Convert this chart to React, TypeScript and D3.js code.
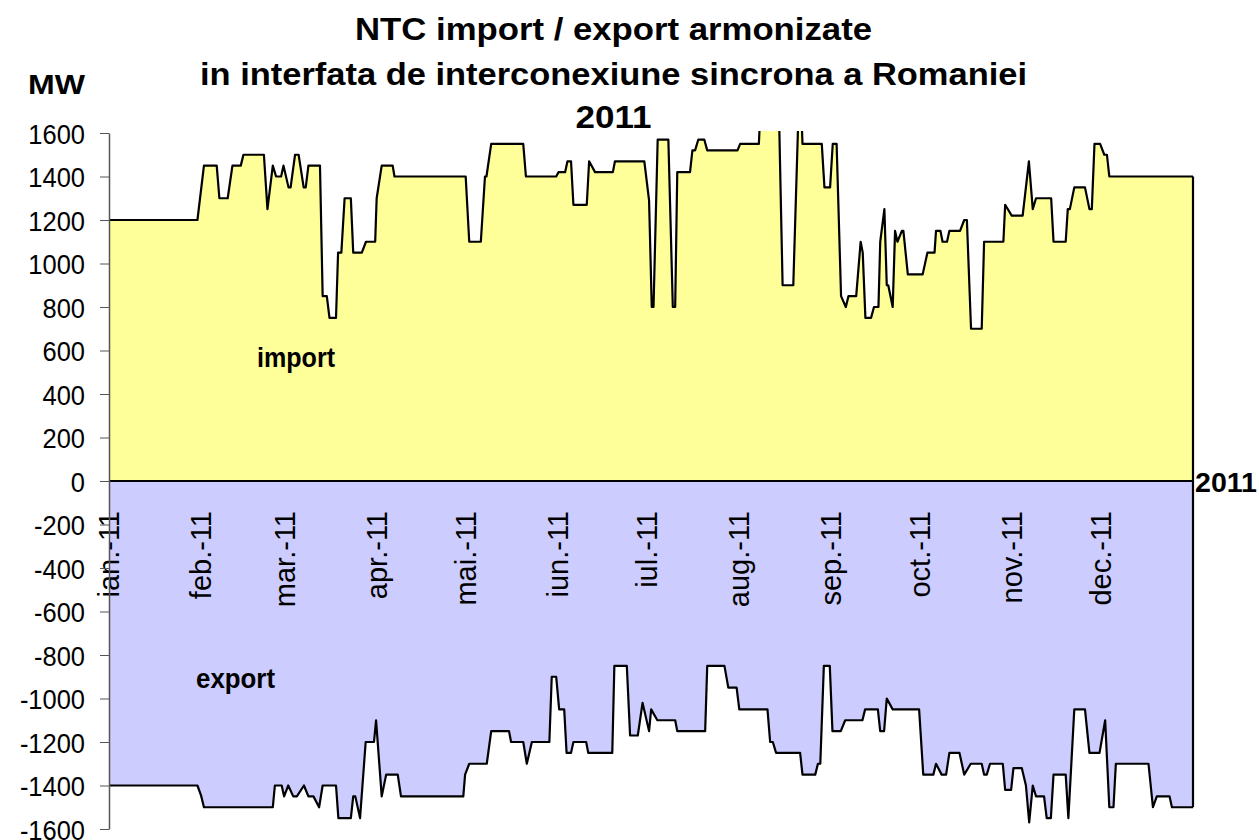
import React from "react";
import * as d3 from "d3";

// -- DATA --
// [day of 2011 (0 = 1 jan), MW]
const importNTC: [number, number][] = [
  [0, 1200], [29.8, 1200], [32, 1450], [36.3, 1450], [37.2, 1300], [40, 1300],
  [41.6, 1450], [44.4, 1450], [45.3, 1500], [52.2, 1500], [53.4, 1250], [55.2, 1450],
  [56.3, 1400], [58, 1400], [58.8, 1450], [60.5, 1350], [61.2, 1350], [62.7, 1500],
  [63.9, 1500], [65.6, 1350], [66.3, 1350], [67.2, 1450], [71.1, 1450], [72, 850],
  [73.4, 850], [74.3, 750], [76.5, 750], [77.2, 1050], [78.3, 1050], [79.4, 1300],
  [81.5, 1300], [82.3, 1050], [85.2, 1050], [86.6, 1100], [89.7, 1100], [90.2, 1300],
  [91.9, 1450], [95.6, 1450], [96.2, 1400], [120.2, 1400], [121.4, 1100], [125.3, 1100],
  [126.7, 1400], [127.2, 1400], [128.8, 1550], [139.6, 1550], [140.5, 1400], [150.7, 1400],
  [151.5, 1420], [153.7, 1420], [154.5, 1470], [155.7, 1470], [156.5, 1270], [161, 1270],
  [161.8, 1470], [163.8, 1420], [169.8, 1420], [170.5, 1470], [180.4, 1470], [182, 1290],
  [182.9, 800], [183.5, 800], [184.9, 1570], [188.5, 1570], [190, 800], [190.8, 800],
  [191.5, 1420], [195.8, 1420], [196.6, 1520], [197.5, 1520], [198.6, 1570], [200.6, 1570],
  [201.6, 1520], [211.8, 1520], [212.7, 1550], [219, 1550], [220.5, 2000], [225.3, 2000],
  [227, 900], [230.6, 900], [232.8, 1900], [233.7, 1550], [240.2, 1550], [241.1, 1350],
  [243, 1350], [243.9, 1550], [245.2, 1550], [246.7, 850], [248.3, 800], [249.2, 850],
  [251.8, 850], [253.3, 1100], [254, 1050], [254.9, 750], [256.8, 750], [257.8, 800],
  [259.3, 800], [259.9, 1100], [261.3, 1250], [262.1, 900], [262.6, 900], [264.1, 800],
  [264.9, 1150], [265.7, 1100], [267.2, 1150], [267.7, 1150], [269.2, 950], [274.2, 950],
  [275.8, 1050], [278.2, 1050], [278.7, 1150], [280.2, 1150], [280.9, 1100], [282.4, 1100],
  [283.2, 1150], [286.8, 1150], [288.2, 1200], [289.1, 1200], [290.5, 700], [294.1, 700],
  [294.9, 1100], [301.4, 1100], [302, 1270], [304.2, 1220], [307.9, 1220], [310, 1470],
  [311.3, 1250], [312.4, 1300], [317.5, 1300], [318.3, 1100], [322.4, 1100], [323.1, 1250],
  [323.8, 1250], [325.3, 1350], [328.9, 1350], [330.4, 1250], [331.2, 1250], [332.1, 1550],
  [334, 1550], [335.4, 1500], [336.3, 1500], [337.1, 1400], [365.3, 1400],
];

const exportNTC: [number, number][] = [
  [0, -1400], [29.8, -1400], [31, -1445], [32, -1500], [55.2, -1500], [55.9, -1400],
  [58.2, -1400], [59, -1450], [60.4, -1400], [62.1, -1450], [63.3, -1450], [65.7, -1400],
  [67.2, -1450], [68.9, -1450], [70.8, -1500], [72, -1400], [76.5, -1400], [77.3, -1550],
  [81.5, -1550], [82.3, -1450], [83, -1450], [84.6, -1550], [86.5, -1200], [89.3, -1200],
  [90, -1100], [91.9, -1450], [93.4, -1350], [97.3, -1350], [98.4, -1450], [119.4, -1450],
  [120, -1350], [121.4, -1300], [127.3, -1300], [128.8, -1150], [134.8, -1150], [135.5, -1200],
  [139.6, -1200], [140.8, -1300], [142.5, -1200], [148.4, -1200], [149.2, -900], [150.7, -900],
  [151.7, -1050], [153.4, -1050], [154.2, -1250], [155.7, -1250], [156.5, -1200], [160.8, -1200],
  [161.5, -1250], [169.6, -1250], [170.3, -850], [174.5, -850], [175.6, -1170], [178.2, -1170],
  [179.8, -1020], [182, -1150], [182.7, -1050], [184.8, -1100], [190.8, -1100], [191.5, -1150],
  [200.9, -1150], [201.6, -850], [207.4, -850], [208.7, -950], [211.5, -950], [212.4, -1050],
  [221.9, -1050], [222.8, -1200], [223.7, -1200], [224.8, -1250], [232.9, -1250], [233.7, -1350],
  [238, -1350], [238.9, -1300], [239.7, -1300], [240.9, -850], [242.9, -850], [243.8, -1150],
  [246.6, -1150], [248.1, -1100], [253.9, -1100], [254.8, -1050], [259.1, -1050], [259.9, -1150],
  [261.2, -1150], [262.1, -1000], [264.1, -1050], [273, -1050], [274.4, -1350], [277.8, -1350],
  [278.7, -1300], [280.6, -1350], [282.1, -1350], [283.2, -1250], [286.6, -1250], [288.2, -1350],
  [290.4, -1300], [294.1, -1300], [294.9, -1350], [295.8, -1350], [296.9, -1300], [301.2, -1300],
  [302, -1420], [304, -1420], [304.8, -1320], [307.6, -1320], [309, -1400], [310.1, -1570],
  [311.3, -1400], [312.4, -1450], [315.1, -1450], [316, -1550], [317.4, -1550], [318.3, -1350],
  [322.4, -1350], [323.3, -1550], [325.3, -1050], [328.9, -1050], [330.4, -1250], [333.8, -1250],
  [335.7, -1100], [337.1, -1500], [338.5, -1500], [339.3, -1300], [350.3, -1300], [351.8, -1500],
  [353.1, -1450], [357.4, -1450], [358.2, -1500], [365.3, -1500],
];

const monthLabels = [
  "ian.-11", "feb.-11", "mar.-11", "apr.-11", "mai.-11", "iun.-11",
  "iul.-11", "aug.-11", "sep.-11", "oct.-11", "nov.-11", "dec.-11",
];
const yTicks = [1600, 1400, 1200, 1000, 800, 600, 400, 200, 0, -200, -400, -600, -800, -1000, -1200, -1400, -1600];
const titleLines = [
  "NTC import / export armonizate",
  "in interfata de interconexiune sincrona a Romaniei",
  "2011",
];

const FONT = "'Liberation Sans', Arial, sans-serif";

const App = () => {
  const svgRef = React.useRef<SVGSVGElement>(null);

  React.useEffect(() => {
    const svg = d3.select(svgRef.current);
    svg.selectAll("*").remove();

    // Scales
    const x = d3.scaleLinear().domain([0, 365.3]).range([109, 1193]);
    const y = d3.scaleLinear().domain([-1600, 1600]).range([829, 133]);

    svg
      .append("defs")
      .append("clipPath")
      .attr("id", "plot-clip")
      .append("rect")
      .attr("x", 109)
      .attr("y", 131)
      .attr("width", 1090)
      .attr("height", 705);

    const plot = svg.append("g").attr("clip-path", "url(#plot-clip)");

    const area = d3
      .area<[number, number]>()
      .x((d) => x(d[0]))
      .y0(y(0))
      .y1((d) => y(d[1]));
    const line = d3
      .line<[number, number]>()
      .x((d) => x(d[0]))
      .y((d) => y(d[1]));

    plot.append("path").datum(importNTC).attr("d", area).attr("fill", "#FFFF99");
    plot.append("path").datum(exportNTC).attr("d", area).attr("fill", "#CCCCFF");

    // month labels sit on the export area
    const jan1 = new Date(2011, 0, 1);
    const monthDays = d3
      .timeMonth.range(jan1, new Date(2012, 0, 1))
      .map((d) => d3.timeDay.count(jan1, d));
    svg
      .append("g")
      .selectAll("text")
      .data(monthLabels)
      .enter()
      .append("text")
      .attr("transform", (d, i) => `translate(${x(monthDays[i])},511) rotate(-90)`)
      .attr("dy", "0.36em")
      .attr("text-anchor", "end")
      .attr("font-family", FONT)
      .attr("font-size", 29)
      .attr("fill", "#000")
      .text((d) => d);

    // outlines
    [importNTC, exportNTC].forEach((s) => {
      plot
        .append("path")
        .datum(s)
        .attr("d", line)
        .attr("fill", "none")
        .attr("stroke", "#000")
        .attr("stroke-width", 2.2)
        .attr("stroke-linejoin", "round");
    });
    const lastImp = importNTC[importNTC.length - 1];
    const lastExp = exportNTC[exportNTC.length - 1];
    svg
      .append("line")
      .attr("x1", x(lastImp[0]))
      .attr("x2", x(lastExp[0]))
      .attr("y1", y(lastImp[1]))
      .attr("y2", y(lastExp[1]))
      .attr("stroke", "#000")
      .attr("stroke-width", 2.2);
    svg
      .append("line")
      .attr("x1", x(0))
      .attr("x2", x(lastImp[0]))
      .attr("y1", y(0))
      .attr("y2", y(0))
      .attr("stroke", "#000")
      .attr("stroke-width", 2.2);

    // Y axis
    const sx = 0.91; // labels are a bit narrow in the source
    svg
      .append("g")
      .attr("transform", "translate(109,0)")
      .attr("color", "#555")
      .call(
        d3
          .axisLeft(y)
          .tickValues(yTicks)
          .tickSize(9)
          .tickSizeOuter(0)
          .tickFormat((d) => String(d))
      )
      .call((g) => g.select(".domain").attr("stroke-width", 1.5))
      .call((g) =>
        g
          .selectAll("text")
          .attr("x", -24 / sx)
          .attr("dy", "0.36em")
          .attr("transform", `scale(${sx},1)`)
          .attr("fill", "#000")
          .attr("font-family", FONT)
          .attr("font-size", 28)
      );

    // Titles
    const titleY = [40, 85, 128];
    const titleW = [517, 827, 76];
    svg
      .append("g")
      .selectAll("text")
      .data(titleLines)
      .enter()
      .append("text")
      .attr("x", 613.5)
      .attr("y", (d, i) => titleY[i])
      .attr("text-anchor", "middle")
      .attr("font-family", FONT)
      .attr("font-weight", "bold")
      .attr("font-size", 31)
      .attr("textLength", (d, i) => titleW[i])
      .attr("lengthAdjust", "spacingAndGlyphs")
      .text((d) => d);

    const label = (t: string, lx: number, ly: number, w: number) =>
      svg
        .append("text")
        .attr("x", lx)
        .attr("y", ly)
        .attr("font-family", FONT)
        .attr("font-weight", "bold")
        .attr("font-size", 28)
        .attr("textLength", w)
        .attr("lengthAdjust", "spacingAndGlyphs")
        .text(t);
    label("MW", 28, 94, 57);
    label("import", 257, 367, 78);
    label("export", 196, 688, 79);
    label("2011", 1195, 492, 62);
  }, []);

  // -- RENDER --
  return (
    <svg
      ref={svgRef}
      width={1259}
      height={840}
      style={{ position: "absolute", left: 0, top: 0, background: "#fff" }}
    />
  );
};

export default App;
